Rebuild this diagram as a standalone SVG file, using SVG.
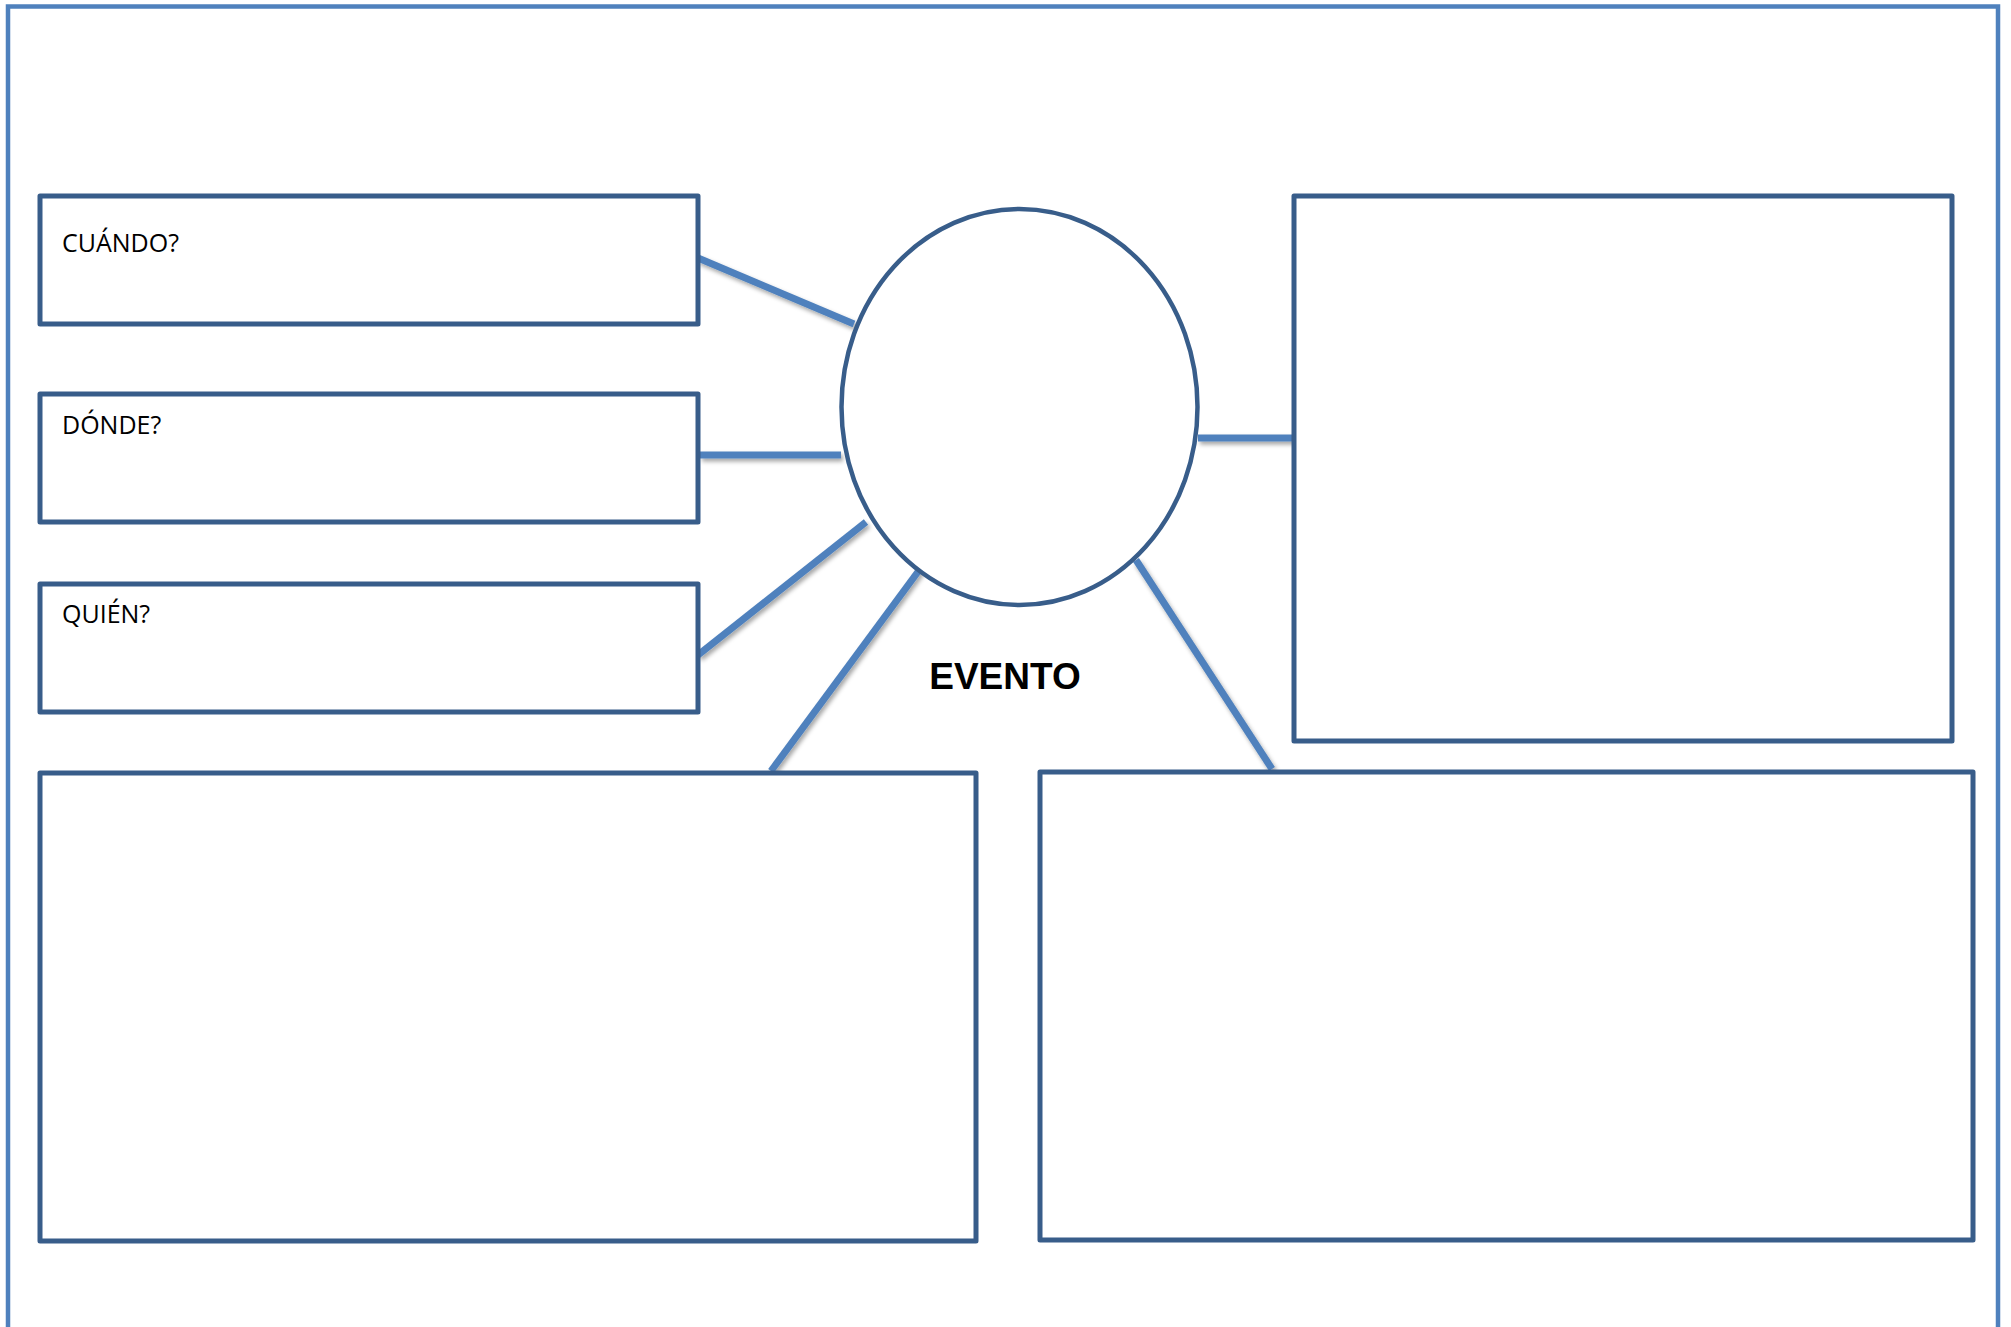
<svg xmlns="http://www.w3.org/2000/svg" width="2011" height="1327" viewBox="0 0 2011 1327">
<defs>
<style>
.box{fill:#ffffff;stroke:#385d8a;stroke-width:5;stroke-linejoin:round}
.conn{stroke:#4f81bd;stroke-width:7;fill:none}
.lbl{font-family:"Open Sans","Liberation Sans",sans-serif;font-size:25px;fill:#000}
.title{font-family:"Liberation Sans",Arial,sans-serif;font-weight:bold;font-size:37px;fill:#000}
</style>
<filter id="sh" x="-20%" y="-20%" width="140%" height="140%">
<feDropShadow dx="2" dy="3" stdDeviation="2" flood-color="#000" flood-opacity="0.35"/>
</filter>
</defs>
<rect x="0" y="0" width="2011" height="1327" fill="#ffffff"/>
<rect id="frame" x="8" y="6.5" width="1990" height="1340" fill="none" stroke="#4f81bd" stroke-width="4.5"/>
<g id="connectors" filter="url(#sh)">
<line class="conn" x1="698" y1="258" x2="854" y2="324"/>
<line class="conn" x1="700" y1="455" x2="841" y2="455"/>
<line class="conn" x1="698" y1="655" x2="866" y2="522"/>
<line class="conn" x1="771" y1="771" x2="920" y2="569"/>
<line class="conn" x1="1136" y1="560" x2="1272" y2="769"/>
<line class="conn" x1="1198" y1="438" x2="1294" y2="438"/>
</g>
<g id="cuando">
<rect class="box" x="40" y="196" width="658" height="128"/>
<text class="lbl" x="62" y="252">CUÁNDO?</text>
</g>
<g id="donde">
<rect class="box" x="40" y="394" width="658" height="128"/>
<text class="lbl" x="62" y="434">DÓNDE?</text>
</g>
<g id="quien">
<rect class="box" x="40" y="584" width="658" height="128"/>
<text class="lbl" x="62" y="623">QUIÉN?</text>
</g>
<g id="box-right-top">
<rect class="box" x="1294" y="196" width="658" height="545"/>
</g>
<g id="box-bottom-left">
<rect class="box" x="40" y="773" width="936" height="468"/>
</g>
<g id="box-bottom-right">
<rect class="box" x="1040" y="772" width="933" height="468"/>
</g>
<g id="evento">
<ellipse cx="1019.5" cy="407" rx="178" ry="198" fill="#ffffff" stroke="#385d8a" stroke-width="4.5"/>
<text class="title" x="1005" y="689" text-anchor="middle">EVENTO</text>
</g>
</svg>
